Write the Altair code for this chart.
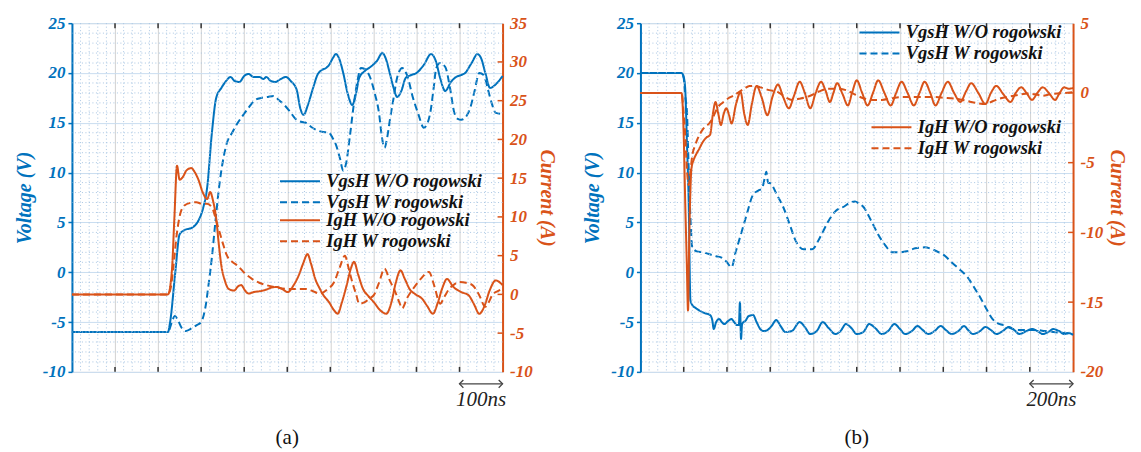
import altair as alt
import pandas as pd

BLUE = "#0072BD"
ORANGE = "#D95319"
SERIF = "Liberation Serif"

# ---------------- Panel (a) data: time (ns), value ----------------
A_VGS_WO = [(0,-6),(223,-6),(228,-5),(240,0),(250,3.8),(260,4.2),(280,4.5),(295,5.3),(305,6.5),(314,8.5),
            (325,14),(335,17.5),(347,18.5),(358,19.2),(368,19.6),(378,19.2),(389,19.1),(400,19.7),(410,19.9),
            (422,19.6),(435,19.6),(445,19.4),(451,19.6),(462,19.2),(472,19.1),(485,19.4),(497,19.6),(508,19.2),
            (522,18.3),(530,16.5),(538,15.8),(548,16.8),(560,18.5),(570,19.8),(580,20.3),(590,20.5),(597,20.8),
            (606,21.5),(613,21.9),(620,21.5),(630,20),(640,18),(651,16.8),(660,18),(667,19.5),(680,20.2),
            (693,20.6),(708,21.2),(721,22),(730,21.3),(738,20),(747,18.5),(755,17.6),(765,18.2),(775,19.5),
            (788,19.8),(800,20),(817,20.8),(834,21.9),(845,21.2),(855,19.5),(867,18.2),(880,19.1),(892,19.6),
            (904,19.8),(913,20),(928,21),(942,21.9),(950,21.5),(960,20),(971,18.5),(985,18.9),(1000,19.7)]
A_VGS_W = [(0,-6),(223,-6),(232,-5),(239,-4.4),(246,-4.8),(255,-5.6),(265,-5.9),(275,-5.7),(290,-5.3),
           (300,-5),(310,-3.5),(318,-1),(325,1.5),(333,5),(343,9),(352,11.5),(360,13),(372,14),(385,15),
           (398,15.8),(410,16.5),(426,17.3),(440,17.5),(455,17.6),(468,17.7),(480,17.3),(493,16.8),(505,16.2),
           (519,15.4),(532,15.1),(544,15),(555,14.6),(567,14.3),(580,14.1),(597,14),(605,13.5),(613,12.8),
           (622,11.5),(630,10.2),(637,11),(645,13.5),(655,17),(663,19.2),(671,20.5),(680,20.4),(693,19.5),
           (703,18),(713,16),(720,13.5),(726,12.5),(732,13.5),(738,15.2),(747,17.5),(755,19.5),(767,20.5),
           (778,19.8),(792,17.5),(805,15.8),(817,14.5),(826,15),(834,16.5),(840,18.5),(846,20.5),(855,21),
           (867,20.6),(878,18.5),(888,16),(896,15.4),(904,15.3),(915,15.6),(925,16.5),(935,18.2),(946,20),
           (956,19.8),(967,18.2),(976,16.8),(984,16),(1000,15.9)]
A_IG_WO = [(0,0),(223,0),(232,3),(238,10),(244,16.6),(250,14.8),(258,15.2),(266,16),(277,16.3),(285,15.8),
           (293,14.9),(305,13),(314,12.3),(321,13.2),(328,12),(335,9.8),(341,6.5),(347,3.7),(355,1.8),
           (364,0.7),(377,0.5),(385,1),(393,1.2),(402,0.5),(410,0.1),(422,0.3),(435,0.4),(450,0.6),(465,0.9),
           (476,0.95),(488,0.7),(501,0.3),(515,1.2),(527,2.5),(537,4),(547,5.2),(555,4),(565,2),(575,0.8),
           (584,-0.1),(597,-1),(608,-2),(617,-2.5),(627,-1),(638,1.2),(647,3.2),(655,4.2),(665,2.5),(676,0.7),
           (688,-0.2),(701,-1),(715,-2),(730,-2.5),(742,-1),(752,1.5),(763,3.1),(773,2),(784,0.7),(798,0),
           (813,-0.55),(825,-1.5),(838,-2.5),(850,-1),(860,0.8),(871,2),(885,1),(904,0.3),(921,-0.1),
           (933,-1.2),(946,-2.5),(958,-1.5),(970,0.5),(984,1.8),(1000,1.2)]
A_IG_W = [(0,0),(223,0),(230,1),(235,3.3),(244,8),(252,10.5),(262,11.5),(275,11.8),(289,11.9),(302,11.7),
          (314,11.7),(327,11),(335,9.5),(343,8),(352,6.3),(360,5),(372,4.2),(385,3.7),(400,2.8),(418,2),
          (435,1.5),(451,1.2),(475,0.9),(501,0.7),(525,0.7),(544,0.7),(560,0.4),(576,0.1),(592,0.6),(609,1.6),
          (622,3.5),(634,5),(642,3.5),(651,1.6),(660,0),(667,-1.2),(680,-1),(692,-0.5),(701,-0.1),(713,1.5),
          (726,3.3),(738,1.8),(751,0.3),(760,-1),(767,-1.8),(778,-0.5),(792,0.7),(810,2),(829,2.9),(842,1),
          (855,-1.2),(865,-0.3),(876,0.7),(888,1.3),(900,1.6),(915,1.5),(930,1.2),(945,0),(960,-1.6),
          (968,-1),(976,-0.1),(988,0.4),(1000,0.7)]

# ---------------- Panel (b) data ----------------
B_VGS_WO = [(0,20),(190,20),(200,19.6),(207,18.4),(215,13),(223,7.1),(231,-2.8),(240,-3.3),(256,-3.6),
            (273,-3.85),(297,-4.1),(322,-4.3),(332,-4.8),(339,-5.7),(350,-5.0),(364,-4.7),(376,-5.0),
            (388,-5.2),(405,-4.9),(421,-4.7),(433,-5.0),(446,-5.3),(455,-5.3),(460,-3.0),(465,-6.7),
            (470,-5.2),(488,-4.8),(500,-4.4),(521,-4.3),(537,-5.0),(554,-5.7),(570,-5.9),(587,-5.8),
            (606,-5.4),(628,-4.8),(648,-5.4),(670,-6.0),(700,-5.9),(736,-5.0),(760,-5.5),(785,-6.2),
            (815,-5.9),(843,-5.0),(870,-5.6),(901,-6.2),(925,-5.9),(950,-5.2),(975,-5.6),(1000,-6.2),
            (1030,-6.0),(1058,-5.2),(1085,-5.6),(1116,-6.2),(1145,-5.9),(1174,-5.2),(1200,-5.7),(1223,-6.2),
            (1255,-5.9),(1281,-5.4),(1305,-5.8),(1331,-6.2),(1360,-5.9),(1388,-5.4),(1412,-5.8),(1438,-6.2),
            (1470,-5.9),(1496,-5.4),(1515,-5.8),(1537,-6.2),(1570,-5.9),(1595,-5.5),(1620,-5.8),(1645,-6.2),
            (1675,-5.9),(1702,-5.5),(1728,-5.8),(1752,-6.2),(1785,-5.9),(1810,-5.7),(1835,-5.9),(1860,-6.2),
            (1885,-6.0),(1909,-5.7),(1935,-5.9),(1959,-6.2),(1980,-6.1),(2000,-6.3)]
B_VGS_W = [(0,20),(190,20),(200,19.5),(208,17.5),(215,16.1),(223,10.4),(231,5.5),(240,2.5),(260,2.1),
           (289,2),(320,1.8),(350,1.6),(372,1.5),(400,1),(421,0.5),(440,2),(463,3.7),(490,5.7),(521,7.8),
           (545,8.2),(562,8.4),(575,9.5),(582,10.1),(590,9),(603,8.9),(630,7.8),(661,6.5),(690,4.8),(719,3.1),
           (755,2.3),(793,2.3),(830,3.5),(868,5.1),(905,6.2),(942,6.6),(970,7),(992,7.1),(1010,6.9),(1033,6.5),
           (1066,5.2),(1099,3.8),(1132,2.7),(1165,2),(1198,2),(1231,2.1),(1270,2.4),(1314,2.5),(1350,2.3),
           (1380,2),(1410,1.6),(1438,1),(1475,0.3),(1512,-0.5),(1545,-1.6),(1579,-2.85),(1605,-3.9),
           (1628,-4.7),(1650,-5.1),(1678,-5.3),(1710,-5.6),(1744,-5.8),(1785,-5.8),(1826,-5.8),(1870,-5.9),
           (1909,-6.0),(1955,-6.1),(2000,-6.2)]
B_IG_WO = [(0,0),(190,0),(200,-3),(207,-7.8),(214,-12),(220,-15.6),(226,-10.1),(236,-5.4),(246,-4.8),
           (256,-4.45),(272,-4.0),(289,-3.5),(305,-3.2),(322,-3.0),(335,-1.5),(347,-0.65),(360,-1.5),
           (372,-2.3),(385,-1.5),(397,-1.1),(410,-1.6),(421,-2.2),(442,-0.8),(463,0.06),(480,-1.5),(496,-2.3),
           (515,-0.8),(537,0.5),(560,-0.3),(587,-1.6),(610,-0.3),(636,0.6),(660,-0.3),(686,-1.1),(710,-0.2),
           (736,0.8),(760,0),(785,-1.1),(810,0),(835,0.8),(855,0.2),(876,-0.65),(892,0),(909,0.7),(935,-0.1),
           (959,-0.9),(980,0.1),(1000,0.9),(1025,0),(1050,-0.9),(1075,0),(1099,0.9),(1128,0),(1157,-0.9),
           (1182,0),(1207,0.8),(1235,0),(1264,-0.9),(1290,0),(1314,0.8),(1340,0),(1364,-0.9),(1392,0),
           (1421,0.8),(1450,0),(1479,-0.65),(1505,0.1),(1529,0.7),(1562,0),(1595,-0.8),(1620,0),(1645,0.5),
           (1678,-0.1),(1711,-0.65),(1735,0),(1760,0.4),(1785,0),(1810,-0.5),(1835,0),(1860,0.4),(1888,0),
           (1917,-0.5),(1938,0),(1959,0.4),(1980,0.3),(2000,0.35)]
B_IG_W = [(0,0),(190,0),(200,-1.5),(207,-3),(215,-5.5),(223,-6.6),(232,-5.5),(240,-4.45),(252,-3.8),
          (264,-3.3),(289,-2.6),(322,-2.1),(340,-1.6),(355,-1.1),(380,-0.7),(405,-0.4),(430,-0.2),(455,0.06),
          (480,0.3),(504,0.5),(530,0.5),(554,0.4),(595,0.2),(636,0.06),(670,-0.3),(702,-0.5),(740,-0.4),
          (785,-0.2),(825,0.1),(868,0.3),(910,0.3),(950,0.2),(990,-0.1),(1033,-0.4),(1075,-0.5),(1116,-0.5),
          (1157,-0.4),(1198,-0.3),(1240,-0.3),(1281,-0.3),(1320,-0.3),(1364,-0.3),(1405,-0.35),(1446,-0.4),
          (1490,-0.5),(1529,-0.65),(1562,-0.75),(1595,-0.8),(1628,-0.6),(1661,-0.4),(1694,-0.3),(1727,-0.2),
          (1760,-0.1),(1793,-0.05),(1826,-0.1),(1860,-0.2),(1893,-0.1),(1926,-0.05),(1963,0),(2000,0.06)]

V_NAMES = ["VgsH W/O rogowski", "VgsH W rogowski"]
I_NAMES = ["IgH W/O rogowski", "IgH W rogowski"]
V_TICKS = [-10, -5, 0, 5, 10, 15, 20, 25]
A_I_TICKS = [-10, -5, 0, 5, 10, 15, 20, 25, 30, 35]
B_I_TICKS = [-20, -15, -10, -5, 0, 5]
DASH = [[1, 0], [7, 4]]
LINE_PATH = "M-1,0H7"


def to_df(pairs, name):
    return pd.DataFrame({"t": [p[0] for p in pairs], "val": [p[1] for p in pairs], "series": name})


def legend(x, y):
    return alt.Legend(orient="none", legendX=x, legendY=y, title=None, symbolType=LINE_PATH,
                      symbolSize=100, symbolStrokeWidth=2, labelOffset=32, padding=0, rowPadding=2,
                      labelLimit=400, labelFont=SERIF, labelFontStyle="italic", labelFontWeight="bold",
                      labelFontSize=18.5, labelColor="#111111")


def vaxis():
    return alt.Axis(
        values=V_TICKS, labelExpr="'' + datum.value", title="Voltage (V)",
        titleColor=BLUE, labelColor=BLUE, domainColor=BLUE, tickColor=BLUE, domainWidth=2,
        tickSize=4, tickWidth=1.5, grid=True, gridColor="#c9ddf0", gridWidth=1,
        labelFont=SERIF, labelFontStyle="italic", labelFontWeight="bold", labelFontSize=17,
        labelPadding=3, titleFont=SERIF, titleFontStyle="italic", titleFontWeight="bold",
        titleFontSize=20, titlePadding=8)


def caxis(cticks):
    return alt.Axis(
        orient="right", values=cticks, labelExpr="'' + datum.value", title="Current (A)",
        titleColor=ORANGE, labelColor=ORANGE, domainColor=ORANGE, ticks=False, domainWidth=2,
        grid=False, labelFont=SERIF, labelFontStyle="italic", labelFontWeight="bold", labelFontSize=17,
        labelPadding=7, titleFont=SERIF, titleFontStyle="italic", titleFontWeight="bold",
        titleFontSize=20, titlePadding=4)


def panel(vwo, vw, iwo, iw, xmax, w, h, cdom, cticks, bar_text, caption, vleg, ileg):
    major = xmax / 10
    xscale = alt.Scale(domain=[0, xmax], nice=False, zero=False)
    vscale = alt.Scale(domain=[-10, 25], nice=False, zero=False)
    cscale = alt.Scale(domain=cdom, nice=False, zero=False)
    xaxis = alt.Axis(values=[major * k for k in range(1, 10)], labels=False, ticks=False, domain=False,
                     grid=True, gridColor="#d2d2d2", gridWidth=1, title=None)

    minor_x = pd.DataFrame({"g": [major / 5 * k for k in range(1, 50) if k % 5]})
    minor_y = pd.DataFrame({"g": [v for v in range(-9, 25) if v % 5]})
    major_x = pd.DataFrame({"g": [major * k for k in range(1, 10)]})
    ctick_df = pd.DataFrame({"g": cticks[1:-1]})

    vdf = pd.concat([to_df(vwo, V_NAMES[0]), to_df(vw, V_NAMES[1])])
    vlines = alt.Chart(vdf).mark_line(strokeWidth=2, interpolate="monotone").encode(
        x=alt.X("t:Q", scale=xscale, axis=xaxis),
        y=alt.Y("val:Q", scale=vscale, axis=vaxis()),
        color=alt.Color("series:N", scale=alt.Scale(domain=V_NAMES, range=[BLUE, BLUE]), legend=vleg),
        strokeDash=alt.StrokeDash("series:N", scale=alt.Scale(domain=V_NAMES, range=DASH), legend=vleg),
        order=alt.Order("t:Q"),
    )
    gx = alt.Chart(minor_x).mark_rule(stroke="#a9c6e3", strokeWidth=1, strokeDash=[1, 2.5]).encode(
        x=alt.X("g:Q", scale=xscale, axis=xaxis))
    gy = alt.Chart(minor_y).mark_rule(stroke="#a9c6e3", strokeWidth=1, strokeDash=[1, 2.5]).encode(
        y=alt.Y("g:Q", scale=vscale, axis=vaxis()))
    ttop = alt.Chart(major_x).mark_rule(stroke="#333333", strokeWidth=1.5).encode(
        x=alt.X("g:Q", scale=xscale, axis=xaxis), y=alt.value(0), y2=alt.value(5))
    tbot = alt.Chart(major_x).mark_rule(stroke="#333333", strokeWidth=1.5).encode(
        x=alt.X("g:Q", scale=xscale, axis=xaxis), y=alt.value(h - 5), y2=alt.value(h))

    idf = pd.concat([to_df(iwo, I_NAMES[0]), to_df(iw, I_NAMES[1])])
    ilines = alt.Chart(idf).mark_line(strokeWidth=2, interpolate="monotone").encode(
        x=alt.X("t:Q", scale=xscale, axis=xaxis),
        y=alt.Y("val:Q", scale=cscale, axis=caxis(cticks)),
        color=alt.Color("series:N", scale=alt.Scale(domain=I_NAMES, range=[ORANGE, ORANGE]), legend=ileg),
        strokeDash=alt.StrokeDash("series:N", scale=alt.Scale(domain=I_NAMES, range=DASH), legend=ileg),
        order=alt.Order("t:Q"),
    )
    itick = alt.Chart(ctick_df).mark_rule(stroke=ORANGE, strokeWidth=1.5).encode(
        y=alt.Y("g:Q", scale=cscale, axis=caxis(cticks)), x=alt.value(w - 5), x2=alt.value(w))

    bar = pd.DataFrame({"x1": [xmax - major], "x2": [xmax], "xm": [xmax - major / 2], "label": [bar_text]})
    brule = alt.Chart(bar).mark_rule(stroke="#444444", strokeWidth=1.3).encode(
        x=alt.X("x1:Q", scale=xscale, axis=xaxis), x2="x2:Q", y=alt.value(h + 12))
    bl = alt.Chart(bar).mark_point(shape="M1,-1L0,0L1,1", filled=False, size=60, stroke="#444444",
                                   strokeWidth=1.3, opacity=1).encode(
        x=alt.X("x1:Q", scale=xscale, axis=xaxis), y=alt.value(h + 12))
    br = alt.Chart(bar).mark_point(shape="M-1,-1L0,0L-1,1", filled=False, size=60, stroke="#444444",
                                   strokeWidth=1.3, opacity=1).encode(
        x=alt.X("x2:Q", scale=xscale, axis=xaxis), y=alt.value(h + 12))
    btxt = alt.Chart(bar).mark_text(font=SERIF, fontStyle="italic", fontSize=21, color="#222222",
                                    baseline="middle").encode(
        x=alt.X("xm:Q", scale=xscale, axis=xaxis), y=alt.value(h + 28), text="label:N")

    left = alt.layer(vlines, gx, gy, ttop, tbot, brule, bl, br, btxt)
    right = alt.layer(ilines, itick)
    return alt.layer(left, right).resolve_scale(
        y="independent", color="independent", strokeDash="independent").properties(
        width=w, height=h,
        title=alt.TitleParams(caption, orient="bottom", anchor="middle", frame="group", font=SERIF,
                              fontSize=21, fontWeight="normal", color="#111111", offset=17))


H = 349
pa = panel(A_VGS_WO, A_VGS_W, A_IG_WO, A_IG_W, 1000, 431, H, [-10, 35], A_I_TICKS, "100ns", "(a)",
           legend(204, 149), legend(204, 188))
pb = panel(B_VGS_WO, B_VGS_W, B_IG_WO, B_IG_W, 2000, 433, H, [-20, 5], B_I_TICKS, "200ns", "(b)",
           legend(215, 0), legend(227, 95))

chart = alt.hconcat(pa, pb, spacing=24).resolve_scale(
    color="independent", strokeDash="independent").configure_view(
    stroke="#333333", strokeWidth=1.5).configure_axis(
    labelFont=SERIF, titleFont=SERIF).configure(background="white", padding=5, font=SERIF)

chart.save("out.html", embed_options={"renderer": "svg", "actions": False})
